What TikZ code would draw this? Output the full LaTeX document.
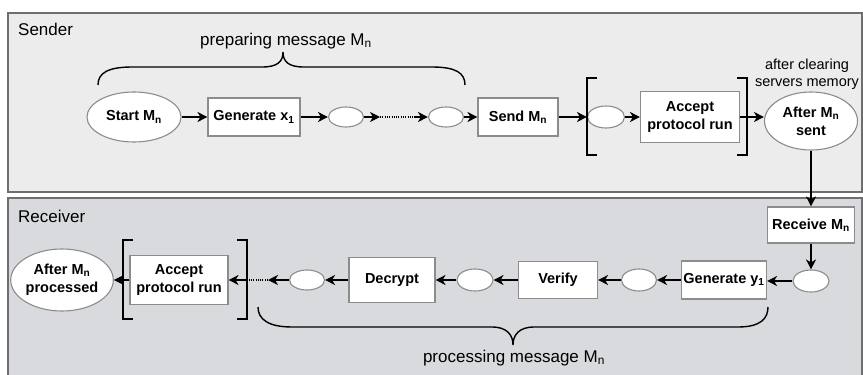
\documentclass[tikz,border=0pt]{standalone}
\usepackage{fontspec}
\setmainfont{Liberation Sans}
\usetikzlibrary{arrows.meta,shapes.geometric}
\definecolor{sendbg}{RGB}{236,236,236}
\definecolor{recvbg}{RGB}{216,218,221}
\definecolor{panelline}{RGB}{110,110,110}
\definecolor{boxgray}{RGB}{140,140,140}
\newcommand{\dgnodefont}{\fontsize{14.5}{18}\selectfont\bfseries}
\newcommand{\dglblfont}{\fontsize{17}{20}\selectfont}
\newcommand{\dgsmallfont}{\fontsize{14.5}{17.5}\selectfont}
\begin{document}
\begin{tikzpicture}[x=1pt,y=-1pt,
  box/.style={draw=boxgray, fill=white, line width=1.1pt, rectangle, inner sep=1pt, align=center, font=\dgnodefont},
  ell/.style={draw=boxgray, fill=white, line width=1.1pt, ellipse, inner sep=0pt, align=center, font=\dgnodefont},
  arr/.style={line width=1.4pt, -{Stealth[length=10pt,width=10pt,inset=3pt]}},
  dots/.style={line width=1.1pt, dash pattern=on 1pt off 1.3pt},
  brk/.style={line width=2pt},
  brc/.style={line width=1.4pt},
  lbl/.style={font=\dglblfont, inner sep=0pt},
  panel/.style={draw=panelline, line width=1.2pt},
]
\useasboundingbox (0,0) rectangle (863,375);
\clip (0,0) rectangle (863,375);

% panels
\fill[sendbg] (8,13) rectangle (862,192);
\draw[panel] (8,13) rectangle (862,192);
\fill[recvbg] (8,198) rectangle (862,385);
\draw[panel] (8,198) rectangle (862,385);

\node[lbl, anchor=base west] (sendlbl) at (18,35) {Sender};
\node[lbl, anchor=base west] (recvlbl) at (18,222) {Receiver};

% sender row
\node[ell, minimum width=94pt, minimum height=50pt] (start) at (134,117) {Start M\textsubscript{n}};
\node[box, minimum width=92pt, minimum height=38pt] (gx) at (254,117) {Generate x\textsubscript{1}};
\node[ell, minimum width=35pt, minimum height=20pt] (e1) at (346,117) {};
\node[ell, minimum width=35pt, minimum height=20pt] (e2) at (446,117) {};
\node[box, minimum width=80pt, minimum height=38pt] (send) at (518,117) {Send M\textsubscript{n}};
\node[ell, minimum width=37pt, minimum height=22pt] (e3) at (606,117) {};
\node[box, minimum width=99pt, minimum height=51pt] (accS) at (690,117) {Accept\\protocol run};
\node[ell, minimum width=93pt, minimum height=58pt] (asent) at (811,121) {After M\textsubscript{n}\\sent};
\node[font=\dgsmallfont, align=center, inner sep=0pt] (clr) at (807,74) {after clearing\\servers memory};

\coordinate (d1) at (380,117);
\coordinate (d2) at (414,117);
\draw[arr] (start) -- (gx);
\draw[arr] (gx) -- (e1);
\draw[arr] (e1) -- (d1);
\draw[dots] (d1) -- (d2);
\draw[arr] (d2) -- (e2);
\draw[arr] (e2) -- (send);
\draw[arr] (send) -- (e3);
\draw[arr] (e3) -- (accS);
\draw[arr] (accS.east) -- (accS.east -| asent.west);

% sender brackets
\draw[brk] (597,78) -- (587,78) -- (587,155) -- (597,155);
\draw[brk] (737,78) -- (747,78) -- (747,155) -- (737,155);

% sender brace
\draw[brc] (98,85) .. controls (98,73) and (108,67) .. (132,67) -- (262,67)
  .. controls (277,67) and (283,62) .. (283,52)
  .. controls (283,62) and (289,67) .. (304,67) -- (432,67)
  .. controls (456,67) and (465,73) .. (465,85);
\node[lbl, anchor=base] (prep) at (286,45) {preparing message M\textsubscript{n}};

% receiver
\node[box, minimum width=87pt, minimum height=36pt] (recv) at (811,225) {Receive M\textsubscript{n}};
\node[ell, minimum width=36pt, minimum height=22pt] (e4) at (811,281) {};
\node[box, minimum width=85pt, minimum height=38pt] (gy) at (724,280) {Generate y\textsubscript{1}};
\node[ell, minimum width=35pt, minimum height=22pt] (e5) at (639,280) {};
\node[box, minimum width=79pt, minimum height=37pt] (ver) at (558,280) {Verify};
\node[ell, minimum width=36pt, minimum height=22pt] (e6) at (475,280) {};
\node[box, minimum width=86pt, minimum height=45pt] (dec) at (392,280) {Decrypt};
\node[ell, minimum width=35pt, minimum height=20pt] (e7) at (307,280) {};
\node[box, minimum width=98pt, minimum height=49pt] (accR) at (179,280) {Accept\\protocol run};
\node[ell, minimum width=92pt, minimum height=62pt] (aproc) at (62,280) {After M\textsubscript{n}\\processed};

\coordinate (d3) at (268,280);
\coordinate (d4) at (248,280);
\draw[arr] (asent) -- (recv);
\draw[arr] (recv) -- (e4);
\draw[arr] (e4.west) -- (e4.west -| gy.east);
\draw[arr] (gy) -- (e5);
\draw[arr] (e5) -- (ver);
\draw[arr] (ver) -- (e6);
\draw[arr] (e6) -- (dec);
\draw[arr] (dec) -- (e7);
\draw[arr] (e7) -- (d3);
\draw[dots] (d3) -- (d4);
\draw[arr] (d4) -- (accR);
\draw[arr] (accR) -- (aproc);

% receiver brackets
\draw[brk] (133,240) -- (123,240) -- (123,319) -- (133,319);
\draw[brk] (237,240) -- (247,240) -- (247,319) -- (237,319);

% receiver brace
\draw[brc] (258,307) .. controls (258,319) and (268,327) .. (292,327) -- (492,327)
  .. controls (507,327) and (513,335) .. (513,345)
  .. controls (513,335) and (519,327) .. (534,327) -- (738,327)
  .. controls (760,327) and (768,319) .. (768,307);
\node[lbl, anchor=base] (procl) at (514,362) {processing message M\textsubscript{n}};
\end{tikzpicture}
\end{document}
